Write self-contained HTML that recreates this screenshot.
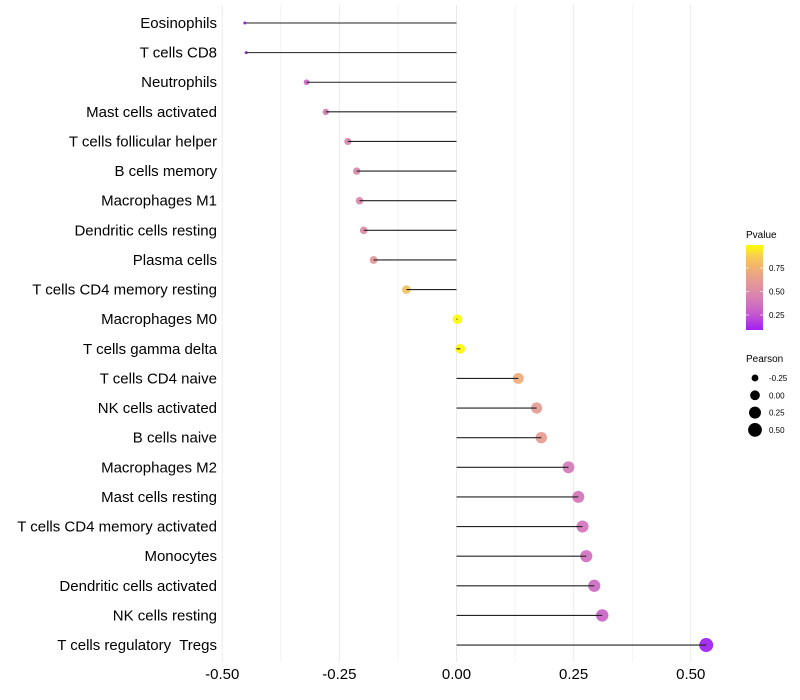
<!DOCTYPE html>
<html><head><meta charset="utf-8"><style>
body{margin:0;background:#fff;}
svg{display:block;font-family:"Liberation Sans",sans-serif;}
text{white-space:pre;}
</style></head><body>
<svg id="chart" width="800" height="700">
<defs>
<linearGradient id="pgrad" x1="0" y1="1" x2="0" y2="0" id2="g"></linearGradient>
</defs>
<g id="grid"></g>
<g id="marks"></g>
<g id="ylab"></g>
<g id="xlab"></g>
<g>
<text x="746" y="238" font-size="10" fill="#000">Pvalue</text>
<rect x="746" y="245" width="17" height="85" fill="url(#pgrad)"/>
<g id="pticks"></g>
</g>
<g>
<text x="746" y="362" font-size="10" fill="#000">Pearson</text>
<g id="sizeleg"></g>
</g>
</svg>
<script>
const categories=["Eosinophils","T cells CD8","Neutrophils","Mast cells activated","T cells follicular helper","B cells memory","Macrophages M1","Dendritic cells resting","Plasma cells","T cells CD4 memory resting","Macrophages M0","T cells gamma delta","T cells CD4 naive","NK cells activated","B cells naive","Macrophages M2","Mast cells resting","T cells CD4 memory activated","Monocytes","Dendritic cells activated","NK cells resting","T cells regulatory  Tregs"];
const pearson=[-0.452,-0.449,-0.320,-0.279,-0.232,-0.213,-0.207,-0.198,-0.177,-0.107,0.002,0.008,0.132,0.171,0.181,0.239,0.260,0.269,0.277,0.294,0.311,0.533];
const pvalue=[0.10,0.10,0.33,0.42,0.46,0.47,0.47,0.50,0.57,0.82,0.99,0.98,0.72,0.62,0.62,0.40,0.38,0.37,0.36,0.33,0.30,0.09];
const xTicks=[-0.5,-0.25,0,0.25,0.5];
const xTickLabels=["-0.50","-0.25","0.00","0.25","0.50"];
const pTicks=[0.25,0.5,0.75];
const sizeTicks=[-0.25,0,0.25,0.5];
const NS="http://www.w3.org/2000/svg";
function mk(t,a,p){const e=document.createElementNS(NS,t);for(const k in a)e.setAttribute(k,a[k]);p.appendChild(e);return e;}
const x=v=>456.5+v*468.5;
const y=i=>23+i*29.62;
const pmin=0.09,pmax=0.995;
const py=p=>330-(p-pmin)/(pmax-pmin)*85;
const smin=-0.452,smax=0.533;
const r=v=>Math.sqrt(2.25+(v-smin)/(smax-smin)*(49-2.25));
const stops=[[0.09,[160,32,240]],[0.25,[196,85,208]],[0.40,[212,122,184]],[0.50,[221,138,166]],[0.62,[230,156,146]],[0.75,[240,176,112]],[0.88,[248,206,80]],[1.0,[255,255,0]]];
function col(p){p=Math.max(stops[0][0],Math.min(1,p));for(let i=1;i<stops.length;i++){if(p<=stops[i][0]){const a=stops[i-1],b=stops[i],f=(p-a[0])/(b[0]-a[0]);return 'rgb('+a[1].map((c,j)=>Math.round(c+(b[1][j]-c)*f)).join(',')+')';}}return 'rgb(255,255,0)';}
const grad=document.getElementById('pgrad');
stops.forEach(s=>{if(s[0]<=pmax+0.01)mk('stop',{offset:Math.min(1,(s[0]-pmin)/(pmax-pmin)),'stop-color':'rgb('+s[1].join(',')+')'},grad);});
const grid=document.getElementById('grid');
for(let k=0;k<=8;k++){const v=-0.5+k*0.125;const l=mk('line',{x1:x(v),x2:x(v),y1:5,y2:662,stroke:'#ebebeb','stroke-width':k%2===0?1:0.6},grid);

}
const marks=document.getElementById('marks'),yl=document.getElementById('ylab');
categories.forEach((c,i)=>{
 const cc=mk('circle',{cx:x(pearson[i]),cy:y(i),r:r(pearson[i]),fill:col(pvalue[i]),'fill-opacity':0.92},marks);
 
 
 const ln=mk('line',{x1:x(0),x2:x(pearson[i]),y1:y(i),y2:y(i),stroke:'#222','stroke-width':1.1},marks);
 
 
 const t=mk('text',{x:217,y:y(i)+5,'font-size':15,'text-anchor':'end',fill:'#000'},yl);
 t.textContent=c;
 
 
});
const xl=document.getElementById('xlab');
xTicks.forEach((v,i)=>{const t=mk('text',{x:x(v),y:679,'font-size':15,'text-anchor':'middle',fill:'#000'},xl);t.textContent=xTickLabels[i];

});
const pt=document.getElementById('pticks');
pTicks.forEach(p=>{mk('line',{x1:746,x2:749,y1:py(p),y2:py(p),stroke:'#fff','stroke-opacity':0.6},pt);mk('line',{x1:760,x2:763,y1:py(p),y2:py(p),stroke:'#fff','stroke-opacity':0.6},pt);
const t=mk('text',{x:769,y:py(p)+3,'font-size':8,fill:'#000'},pt);t.textContent=p.toFixed(2);

});
const sl=document.getElementById('sizeleg');
sizeTicks.forEach((v,i)=>{const cy=378+i*17.3;const c=mk('circle',{cx:755,cy:cy,r:r(v),fill:'#000'},sl);


const t=mk('text',{x:769,y:cy+3,'font-size':8,fill:'#000'},sl);t.textContent=v.toFixed(2);

});
</script>
</body></html>
